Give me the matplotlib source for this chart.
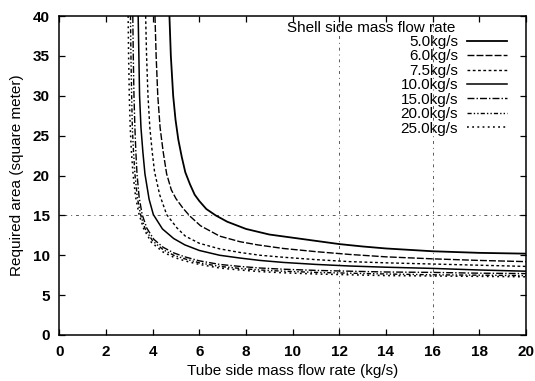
import matplotlib
matplotlib.use("Agg")
import matplotlib.pyplot as plt

plt.rcParams['font.family'] = ['Liberation Sans', 'DejaVu Sans']

labels = ["5.0kg/s", "6.0kg/s", "7.5kg/s", "10.0kg/s", "15.0kg/s", "20.0kg/s", "25.0kg/s"]

x_50 = [4.72, 4.78, 4.88, 4.98, 5.1, 5.25, 5.4, 5.6, 5.8, 6.0, 6.3, 6.7, 7.2, 8.0, 9.0, 10, 11, 12, 13, 14, 16, 18, 20]
y_50 = [40, 35, 30, 27, 24.5, 22.3, 20.4, 18.9, 17.6, 16.8, 15.8, 15.0, 14.2, 13.3, 12.6, 12.2, 11.8, 11.4, 11.1, 10.85, 10.5, 10.3, 10.2]

x_60 = [4.10, 4.15, 4.22, 4.32, 4.45, 4.6, 4.8, 5.0, 5.3, 5.6, 6.05, 6.87, 7.74, 8.5, 9.6, 11, 12.45, 14, 16, 18, 20]
y_60 = [40, 35, 30, 26, 23, 20.2, 18.2, 17.1, 15.9, 14.9, 13.7, 12.4, 11.7, 11.3, 10.85, 10.45, 10.1, 9.8, 9.55, 9.35, 9.2]

x_75 = [3.70, 3.74, 3.80, 3.88, 3.98, 4.08, 4.3, 4.6, 5.05, 5.4, 6.0, 6.87, 7.74, 8.6, 9.6, 11, 12.45, 14, 16, 18, 20]
y_75 = [40, 35, 30, 26, 23, 20.5, 17.6, 15.1, 13.4, 12.4, 11.5, 10.8, 10.35, 10.0, 9.75, 9.45, 9.2, 9.05, 8.9, 8.75, 8.6]

x_100 = [3.38, 3.41, 3.44, 3.50, 3.58, 3.67, 3.85, 4.03, 4.42, 4.9, 5.38, 6.0, 6.87, 7.74, 8.6, 9.6, 11, 12.45, 14, 16, 18, 20]
y_100 = [40, 35, 30, 26, 23, 20.2, 17.0, 15.1, 13.3, 12.1, 11.3, 10.6, 10.0, 9.65, 9.35, 9.1, 8.85, 8.65, 8.5, 8.35, 8.15, 8.0]

x_150 = [3.15, 3.17, 3.20, 3.24, 3.28, 3.33, 3.42, 3.55, 3.75, 4.05, 4.45, 4.9, 5.38, 6.0, 6.87, 7.74, 8.6, 9.6, 11, 12.45, 14, 16, 18, 20]
y_150 = [40, 35, 30, 26, 23, 20.2, 17.3, 15.1, 13.4, 12.0, 11.0, 10.3, 9.8, 9.3, 8.85, 8.6, 8.4, 8.25, 8.1, 8.0, 7.9, 7.85, 7.75, 7.7]

x_200 = [3.05, 3.07, 3.10, 3.13, 3.18, 3.24, 3.34, 3.48, 3.68, 4.0, 4.45, 4.9, 5.38, 6.0, 6.87, 7.74, 8.6, 9.6, 11, 12.45, 14, 16, 18, 20]
y_200 = [40, 35, 30, 26, 23, 20.2, 17.3, 15.1, 13.3, 11.8, 10.7, 10.0, 9.55, 9.05, 8.6, 8.35, 8.15, 8.0, 7.85, 7.75, 7.65, 7.55, 7.5, 7.45]

x_250 = [2.95, 2.97, 3.00, 3.04, 3.09, 3.16, 3.27, 3.42, 3.62, 3.95, 4.45, 4.9, 5.38, 6.0, 6.87, 7.74, 8.6, 9.6, 11, 12.45, 14, 16, 18, 20]
y_250 = [40, 35, 30, 26, 23, 20.2, 17.3, 15.1, 13.3, 11.6, 10.4, 9.75, 9.3, 8.85, 8.4, 8.15, 7.95, 7.8, 7.65, 7.55, 7.45, 7.4, 7.35, 7.3]

xs = [x_50, x_60, x_75, x_100, x_150, x_200, x_250]
ys = [y_50, y_60, y_75, y_100, y_150, y_200, y_250]

x_ticks = [0, 2, 4, 6, 8, 10, 12, 14, 16, 18, 20]
y_ticks = [0, 5, 10, 15, 20, 25, 30, 35, 40]
grid_x = [12, 16]
grid_y = [15]

styles = [
    dict(ls='-', lw=1.3),
    dict(ls=(0, (5, 1.5)), lw=1.0),
    dict(ls=(0, (2, 1.8)), lw=1.0),
    dict(ls='-', lw=1.1),
    dict(ls=(0, (5, 1.5, 1, 1.5)), lw=1.0),
    dict(ls=(0, (3, 1.5, 1, 1.5, 1, 1.5)), lw=1.0),
    dict(ls=(0, (1.2, 2.2)), lw=1.1),
]

fig = plt.figure(figsize=(5.35, 3.81), dpi=100)
ax = fig.add_axes([59.3 / 535, 1 - 335 / 381, (526 - 59.3) / 535, (335 - 16) / 381])

for gx in grid_x:
    ax.axvline(gx, color='0.35', lw=0.7, ls=(0, (1, 4, 3, 4)), zorder=0)
for gy in grid_y:
    ax.axhline(gy, color='0.35', lw=0.7, ls=(0, (1, 4, 3, 4)), zorder=0)

for x, y, lab, st in zip(xs, ys, labels, styles):
    ax.plot(x, y, color='black', label=lab, **st)

ax.set_xlim(0, 20)
ax.set_ylim(0, 40)
ax.set_xticks(x_ticks)
ax.set_yticks(y_ticks)
ax.tick_params(direction='in', length=4.5, width=0.9, top=True, right=True,
               labelsize=11, pad=7)
for t in ax.get_xticklabels() + ax.get_yticklabels():
    t.set_fontweight('bold')
for s in ax.spines.values():
    s.set_linewidth(1.1)

ax.set_xlabel("Tube side mass flow rate (kg/s)", fontsize=11, labelpad=4)
ax.set_ylabel("Required area (square meter)", fontsize=11, labelpad=6)

ax.text((455 - 59.3) / 466.7, 1 - (28 - 16) / 319, "Shell side mass flow rate",
        transform=ax.transAxes, ha='right', va='center', fontsize=11)
leg = ax.legend(loc='upper right', bbox_to_anchor=((507 - 59.3) / 466.7, 1 - (35 - 16) / 319),
                frameon=False, markerfirst=False, fontsize=11, borderpad=0,
                borderaxespad=0, handlelength=2.6, handletextpad=0.6,
                labelspacing=0.03)

fig.savefig("out.png", dpi=100)
